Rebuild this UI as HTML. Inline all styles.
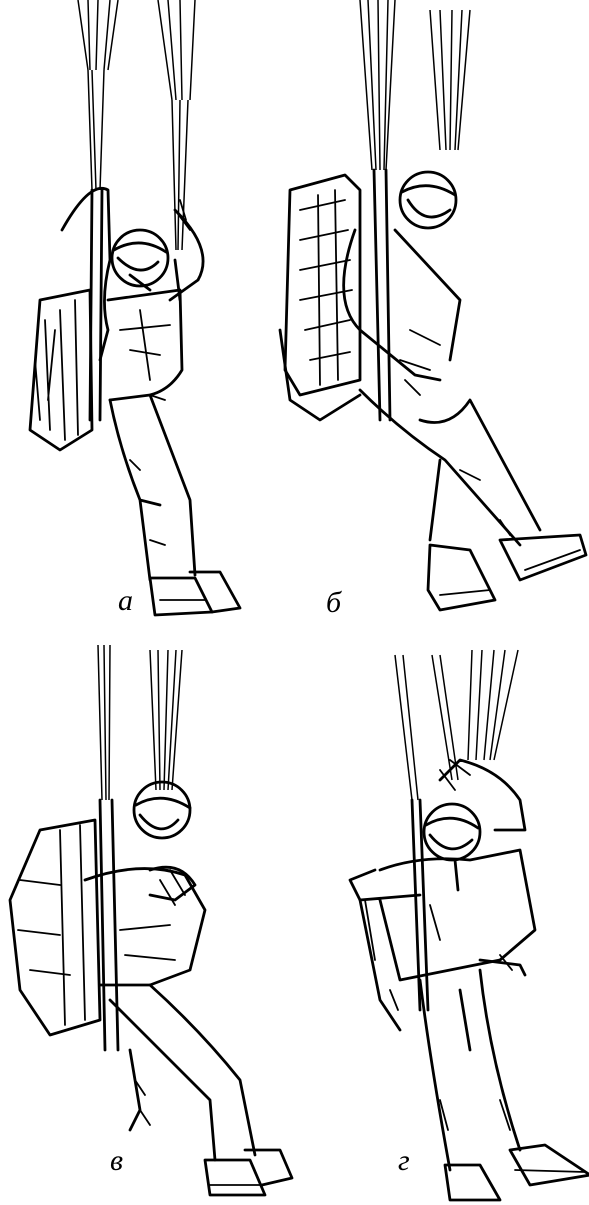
<!DOCTYPE html>
<html><head><meta charset="utf-8">
<style>
html,body{margin:0;padding:0;background:#fff;width:589px;height:1205px;overflow:hidden}
svg{display:block}
.s{fill:none;stroke:#000;stroke-width:2.8;stroke-linecap:round;stroke-linejoin:round}
.d{fill:none;stroke:#000;stroke-width:1.8;stroke-linecap:round}
.t{fill:none;stroke:#000;stroke-width:1.5}
.lbl{font-family:"Liberation Serif",serif;font-style:italic;font-size:30px;fill:#000}
</style></head>
<body>
<svg width="589" height="1205" viewBox="0 0 589 1205">
<!-- Figure a -->
<g>
 <g class="t">
  <path d="M78 0 L88 70 M88 0 L90 70 M98 0 L96 70 M110 0 L104 70 M118 0 L108 70"/>
  <path d="M88 70 L92 190 M104 70 L100 190 M92 70 L96 190"/>
  <path d="M158 0 L172 100 M168 0 L176 100 M180 0 L182 100 M195 0 L190 100"/>
  <path d="M172 100 L176 250 M188 100 L182 250 M180 100 L178 250"/>
 </g>
 <g class="s">
  <path d="M92 190 L90 420 M102 190 L100 420"/>
  <circle cx="140" cy="258" r="28"/>
  <path d="M114 250 Q140 235 166 252 M118 258 Q140 280 158 262 M130 275 L150 290"/>
  <path d="M62 230 Q90 180 108 190 L110 260 Q100 300 108 330 L100 360"/>
  <path d="M175 210 Q215 250 198 280 L170 300 M175 260 L180 300"/>
  <path d="M108 300 L180 290 L182 370 Q170 390 150 395 L110 400"/>
  <path d="M40 300 L90 290 L92 430 L60 450 L30 430 Z"/>
  <path d="M110 400 Q120 450 140 500 L150 580 M150 395 Q175 460 190 500 L195 575 M140 500 L160 505"/>
  <path d="M150 578 L195 578 L212 612 L155 615 Z"/>
  <path d="M190 572 L220 572 L240 608 L212 612"/>
 </g>
 <g class="d">
  <path d="M45 320 L50 430 M60 310 L65 440 M75 300 L78 435 M35 360 L40 420 M55 330 L48 400"/>
  <path d="M120 330 L170 325 M130 350 L160 355 M140 310 L150 380 M150 395 L165 400"/>
  <path d="M130 460 L140 470 M150 540 L165 545 M160 600 L205 600"/>
  <path d="M175 210 L190 230 M180 200 L186 220"/>
 </g>
 <text class="lbl" x="118" y="610">а</text>
</g>
<!-- Figure б -->
<g>
 <g class="t">
  <path d="M360 0 L372 170 M368 0 L376 170 M378 0 L380 170 M388 0 L384 170 M395 0 L386 170"/>
  <path d="M430 10 L440 150 M440 10 L446 150 M452 10 L450 150 M462 10 L455 150 M470 10 L458 150"/>
 </g>
 <g class="s">
  <path d="M374 170 L380 420 M386 170 L390 420"/>
  <circle cx="428" cy="200" r="28"/>
  <path d="M402 192 Q428 178 455 195 M408 200 Q425 228 450 210"/>
  <path d="M290 190 L345 175 L360 190 L360 380 L300 395 L285 370 Z"/>
  <path d="M280 330 L290 400 L320 420 L360 395"/>
  <path d="M355 230 Q330 300 360 330 L415 375 L440 380 M395 230 L460 300 L450 360"/>
  <path d="M360 390 Q400 430 445 460 L520 545 M420 420 Q450 430 470 400 L540 530"/>
  <path d="M440 460 L430 540"/>
  <path d="M500 540 L580 535 L586 555 L520 580 Z"/>
  <path d="M430 545 L470 550 L495 600 L440 610 L428 590 Z"/>
 </g>
 <g class="d">
  <path d="M300 210 L345 200 M300 240 L348 230 M300 270 L350 260 M300 300 L352 290 M305 330 L350 320 M310 360 L350 352"/>
  <path d="M318 195 L320 385 M335 190 L338 380"/>
  <path d="M400 360 L430 370 M410 330 L440 345 M405 380 L420 395"/>
  <path d="M460 470 L480 480 M500 520 L510 535 M440 595 L490 590 M525 570 L580 550"/>
 </g>
 <text class="lbl" x="326" y="612">б</text>
</g>
<!-- Figure в -->
<g>
 <g class="t">
  <path d="M98 645 L102 800 M104 645 L106 800 M110 645 L109 800"/>
  <path d="M150 650 L156 790 M158 650 L160 790 M168 650 L164 790 M176 650 L168 790 M182 650 L172 790"/>
 </g>
 <g class="s">
  <path d="M100 800 L105 1050 M112 800 L118 1050"/>
  <circle cx="162" cy="810" r="28"/>
  <path d="M136 805 Q162 790 190 808 M140 815 Q160 840 178 820"/>
  <path d="M40 830 L95 820 L100 1020 L50 1035 L20 990 L10 900 Z"/>
  <path d="M85 880 Q140 860 185 875 L205 910 L190 970 L150 985 L100 985"/>
  <path d="M150 870 Q180 860 195 885 L175 900 L150 895"/>
  <path d="M110 1000 Q170 1060 210 1100 L215 1160 M150 985 Q200 1030 240 1080 L255 1155"/>
  <path d="M205 1160 L250 1160 L265 1195 L210 1195 Z"/>
  <path d="M245 1150 L280 1150 L292 1178 L262 1185"/>
  <path d="M130 1050 L140 1110 L130 1130"/>
 </g>
 <g class="d">
  <path d="M20 880 L60 885 M18 930 L60 935 M30 970 L70 975 M60 830 L65 1025 M80 825 L85 1020"/>
  <path d="M160 880 L175 905 M170 870 L185 895 M120 930 L170 925 M125 955 L175 960"/>
  <path d="M135 1080 L145 1095 M140 1110 L150 1125 M210 1185 L260 1185"/>
 </g>
 <text class="lbl" x="110" y="1170">в</text>
</g>
<!-- Figure г -->
<g>
 <g class="t">
  <path d="M395 655 L412 800 M403 655 L418 800"/>
  <path d="M432 655 L452 780 M440 655 L458 780"/>
  <path d="M472 650 L468 760 M482 650 L476 760 M494 650 L484 760 M505 650 L490 760 M518 650 L494 760"/>
 </g>
 <g class="s">
  <path d="M412 800 L420 1010 M420 800 L428 1010"/>
  <circle cx="452" cy="832" r="28"/>
  <path d="M426 825 Q452 810 478 828 M430 835 Q450 860 472 840 M455 860 L458 890"/>
  <path d="M440 780 L460 760 Q500 770 520 800 L525 830 L495 830"/>
  <path d="M375 870 L350 880 L360 900 L420 895 M380 870 Q420 855 470 860 L520 850 L535 930 L500 960 L400 980 L380 900"/>
  <path d="M360 900 L380 1000 L400 1030"/>
  <path d="M420 980 Q430 1060 450 1170 M480 970 Q490 1060 520 1150 M460 990 L470 1050"/>
  <path d="M445 1165 L480 1165 L500 1200 L450 1200 Z"/>
  <path d="M510 1150 L545 1145 L590 1175 L530 1185 Z"/>
  <path d="M480 960 L520 965 L525 975"/>
 </g>
 <g class="d">
  <path d="M440 770 L455 790 M450 760 L470 775 M365 900 L375 960 M390 990 L398 1010"/>
  <path d="M500 955 L512 970 M430 905 L440 940 M440 1100 L448 1130 M500 1100 L510 1130 M515 1170 L585 1172"/>
 </g>
 <text class="lbl" x="398" y="1170">г</text>
</g>
</svg>
</body></html>
